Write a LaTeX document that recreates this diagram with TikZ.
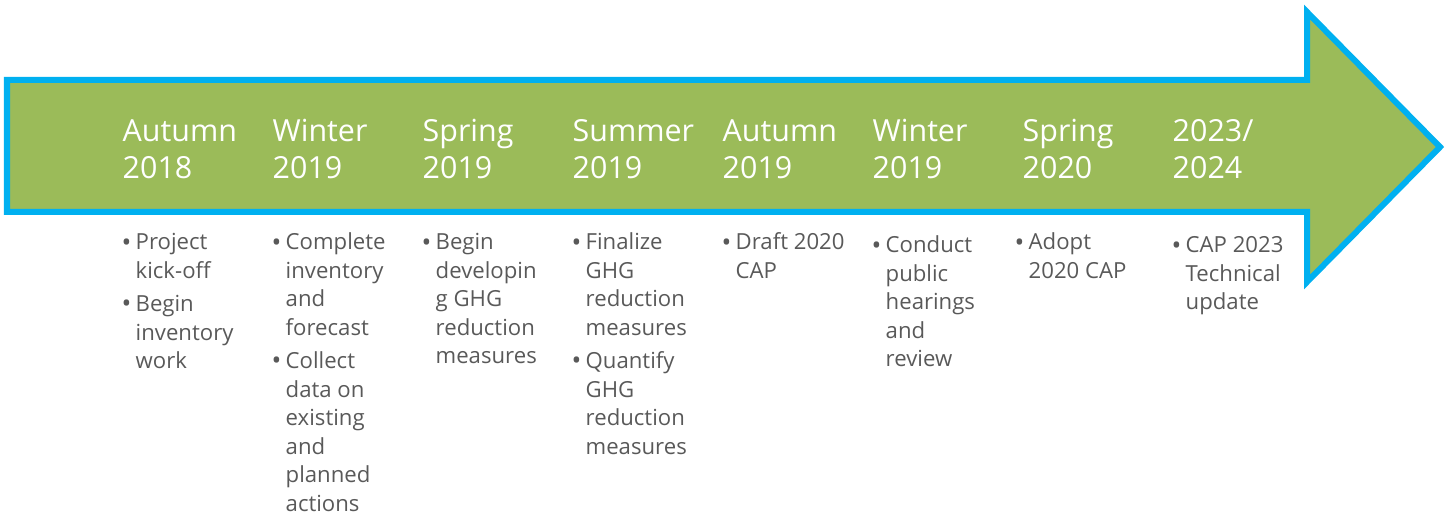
\documentclass[tikz,border=0pt]{standalone}
\usepackage{fontspec}
\setmainfont{Open Sans}
\definecolor{arrowgreen}{HTML}{9BBB59}
\definecolor{arrowblue}{HTML}{00B0F0}
\definecolor{tasktext}{HTML}{595959}
\newcommand{\stack}[1]{\begin{tabular}[t]{@{}l@{}}#1\end{tabular}}
\newcommand{\tasklist}[1]{\begin{tabular}[t]{@{}l@{}l@{}}#1\end{tabular}}
\newcommand{\bl}{\makebox[0.12cm][l]{\hspace*{-0.6pt}\raisebox{-0.3pt}{\fontsize{7.4}{8}\selectfont\textbullet}}}
\tikzset{%
    timeline/.style={draw=arrowblue,fill=arrowgreen,line width=0.06cm,line join=miter},
    season/.style={anchor=base west,inner sep=0pt,text=white,font=\fontsize{8.65}{10.5}\selectfont},
    tasks/.style={anchor=base west,inner sep=0pt,text=tasktext,font=\fontsize{6.3}{8.1}\selectfont},
}

\begin{document}
\begin{tikzpicture}[x=0.01cm,y=-0.01cm]
    \useasboundingbox (0,0) rectangle (1448,516);

    %pfeil
    \draw[timeline] (7,80) -- (1307,80) -- (1307,12) -- (1440,147) -- (1307,282) -- (1307,212) -- (7,212) -- cycle;

    %jahreszeiten
    \node[season] (s1) at (122,142) {\stack{Autumn\\2018}};
    \node[season] (s2) at (272,142) {\stack{Winter\\2019}};
    \node[season] (s3) at (422,142) {\stack{Spring\\2019}};
    \node[season] (s4) at (572,142) {\stack{Summer\\2019}};
    \node[season] (s5) at (722,142) {\stack{Autumn\\2019}};
    \node[season] (s6) at (872,142) {\stack{Winter\\2019}};
    \node[season] (s7) at (1022,142) {\stack{Spring\\2020}};
    \node[season] (s8) at (1172,142) {\stack{2023/\\2024}};

    %aufgaben
    \node[tasks] (d1) at (123,250) {\tasklist{\bl & Project\\ & kick-off\\[1.4pt] \bl & Begin\\ & inventory\\ & work}};
    \node[tasks] (d2) at (273,250) {\tasklist{\bl & Complete\\ & inventory\\ & and\\ & forecast\\[1.4pt] \bl & Collect\\ & data on\\ & existing\\ & and\\ & planned\\ & actions}};
    \node[tasks] (d3) at (423,250) {\tasklist{\bl & Begin\\ & developin\\ & g GHG\\ & reduction\\ & measures}};
    \node[tasks] (d4) at (573,250) {\tasklist{\bl & Finalize\\ & GHG\\ & reduction\\ & measures\\[1.4pt] \bl & Quantify\\ & GHG\\ & reduction\\ & measures}};
    \node[tasks] (d5) at (723,250) {\tasklist{\bl & Draft 2020\\ & CAP}};
    \node[tasks] (d6) at (873,253) {\tasklist{\bl & Conduct\\ & public\\ & hearings\\ & and\\ & review}};
    \node[tasks] (d7) at (1016,250) {\tasklist{\bl & Adopt\\ & 2020 CAP}};
    \node[tasks] (d8) at (1173,253) {\tasklist{\bl & CAP 2023\\ & Technical\\ & update}};
\end{tikzpicture}
\end{document}
